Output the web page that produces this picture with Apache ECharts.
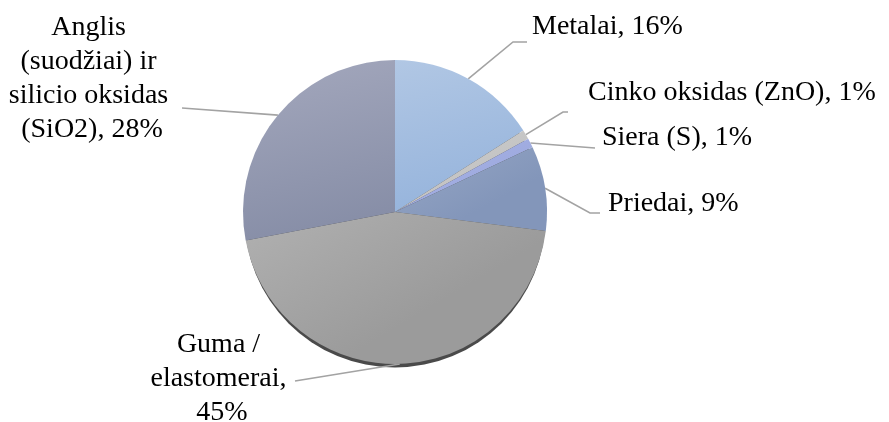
<!DOCTYPE html>
<html>
<head>
<meta charset="utf-8">
<script src="https://cdn.jsdelivr.net/npm/echarts@6/dist/echarts.min.js"></script>
<style>
  html, body { margin: 0; padding: 0; background: #fff; }
  #chart { width: 889px; height: 422px; }
</style>
</head>
<body>
<div id="chart"></div>
<script>
// Rubber composition shares (%)
const categories = [
  'Metalai',
  'Cinko oksidas (ZnO)',
  'Siera (S)',
  'Priedai',
  'Guma / elastomerai',
  'Anglis (suodžiai) ir silicio oksidas (SiO2)'
];
const shares = [16, 1, 1, 9, 45, 28];

// Slice fills: [top colour, bottom colour] of a soft vertical gradient
const sliceColors = [
  ['#b1c7e4', '#96b4dc'],
  ['#cdcdcd', '#c2c2c2'],
  ['#a9b4e6', '#9eaadf'],
  ['#97a7c5', '#8396ba'],
  ['#b1b1b1', '#9b9b9b'],
  ['#a4a8bd', '#878ea7']
];

// Label placement: anchor (x, y), text alignment, wrap width,
// and leader-line end/bend offsets relative to the anchor
const labelPlacement = [
  { x: 532, y: 27,  align: 'left',   end: [-5, 15],  bend: -14 },
  { x: 588, y: 93,  align: 'left',   end: [-20, 19], bend: -5 },
  { x: 602, y: 138, align: 'left',   end: [-7, 10],  bend: 0 },
  { x: 608, y: 204, align: 'left',   end: [-8, 9],   bend: -10 },
  { x: 222, y: 379, align: 'center', end: [73, 2],   bend: 0, width: 150 },
  { x: 92,  y: 79,  align: 'center', end: [90, 29],  bend: 0, width: 180 }
];

const CENTER = [395, 212];
const RADIUS = 152;

const chart = echarts.init(document.getElementById('chart'), null, { renderer: 'canvas' });

const pieData = categories.map((name, i) => {
  const p = labelPlacement[i];
  const item = {
    name: name,
    value: shares[i],
    itemStyle: {
      color: new echarts.graphic.LinearGradient(0, 0, 0.3, 1, [
        { offset: 0, color: sliceColors[i][0] },
        { offset: 1, color: sliceColors[i][1] }
      ])
    }
  };
  if (p.width) {
    item.label = { width: p.width, overflow: 'break', align: 'center' };
  }
  return item;
});

chart.setOption({
  backgroundColor: '#ffffff',
  animation: false,
  series: [
    {
      // dark rim under the lower edge of the pie
      type: 'pie',
      silent: true,
      center: [CENTER[0], CENTER[1] + 5],
      radius: RADIUS - 1.5,
      label: { show: false },
      labelLine: { show: false },
      itemStyle: { color: '#4a4a4a' },
      data: [{ name: '', value: 1 }],
      z: 1
    },
    {
      type: 'pie',
      center: CENTER,
      radius: RADIUS,
      startAngle: 90,
      clockwise: true,
      avoidLabelOverlap: false,
      z: 2,
      label: {
        show: true,
        position: 'outside',
        formatter: (p) => p.name + ', ' + p.value + '%',
        fontFamily: '"Liberation Serif", "Times New Roman", serif',
        fontSize: 28,
        lineHeight: 34,
        color: '#000000'
      },
      labelLine: {
        show: true,
        lineStyle: { color: '#a3a3a3', width: 1.6 }
      },
      labelLayout: (params) => {
        const p = labelPlacement[params.dataIndex];
        const start = params.labelLinePoints ? params.labelLinePoints[0] : [CENTER[0], CENTER[1]];
        const end = [p.x + p.end[0], p.y + p.end[1]];
        const bend = [end[0] + p.bend, end[1]];
        return {
          x: p.x,
          y: p.y,
          align: p.align,
          verticalAlign: 'middle',
          labelLinePoints: [start, bend, end]
        };
      },
      data: pieData
    }
  ]
});
</script>
</body>
</html>
